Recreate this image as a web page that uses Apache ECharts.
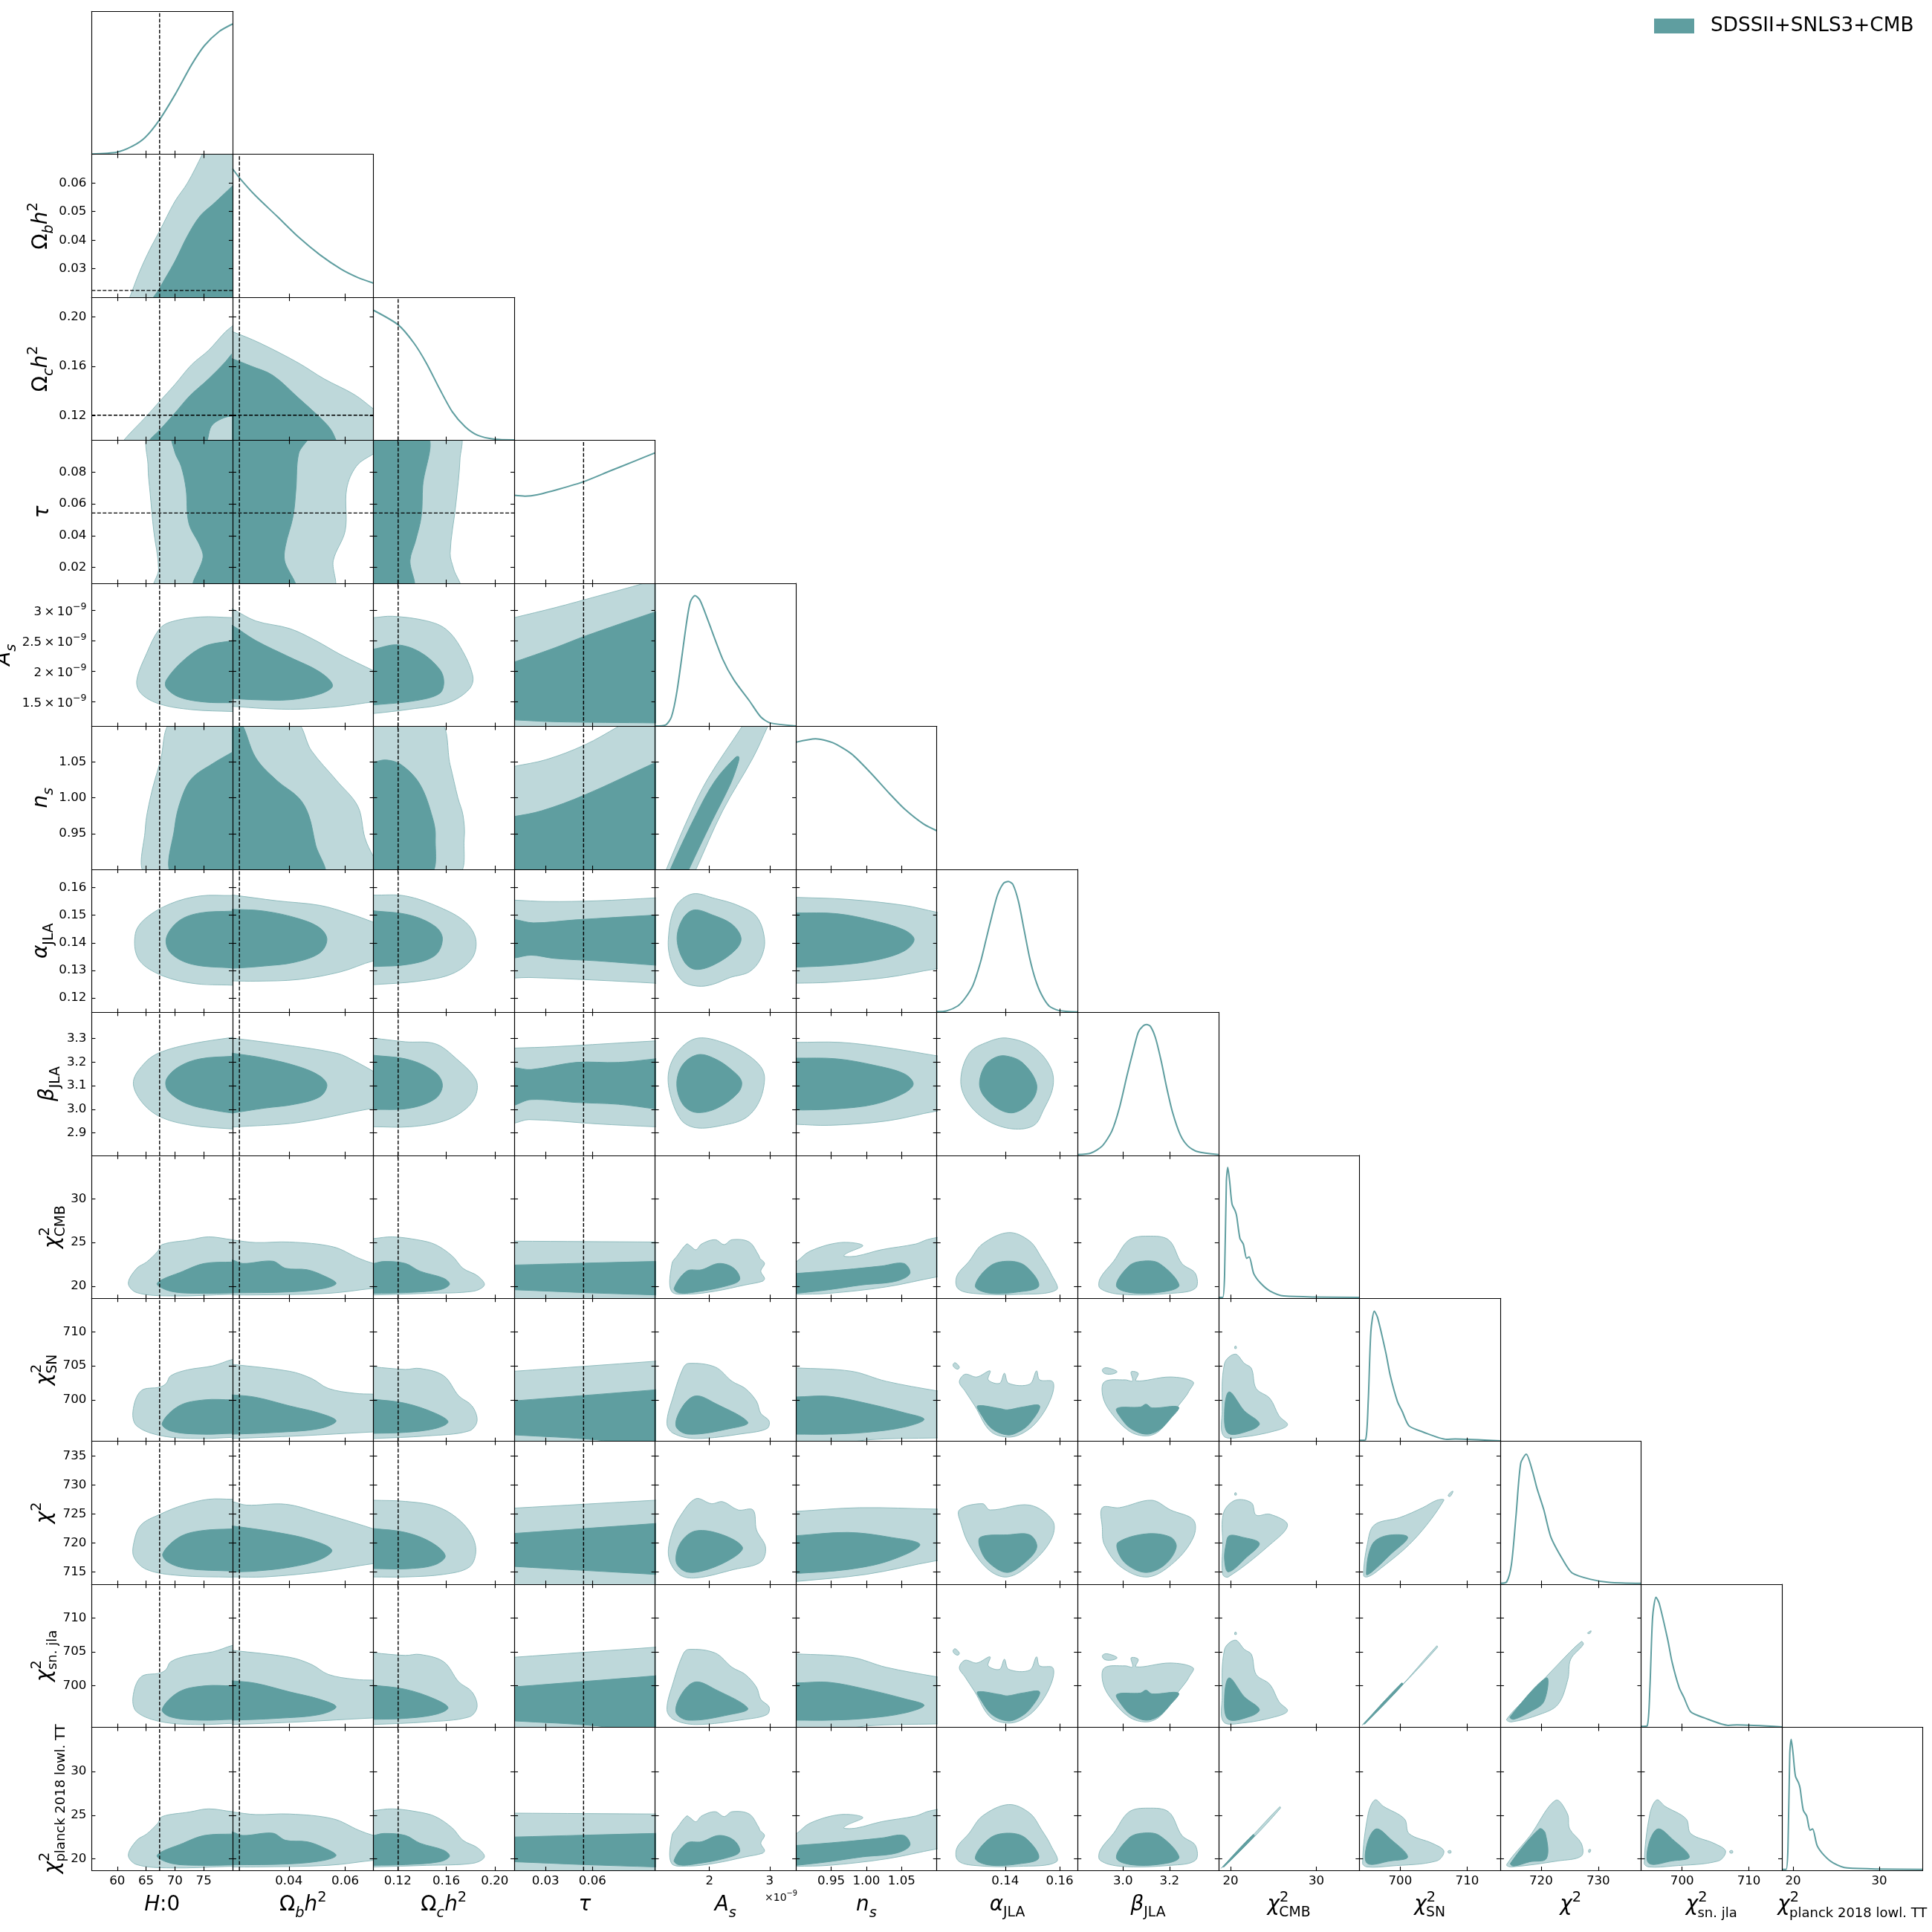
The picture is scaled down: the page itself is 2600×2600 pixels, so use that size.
<!DOCTYPE html>
<html><head><meta charset="utf-8">
<style>html,body{margin:0;padding:0;background:#fff}#c{width:2600px;height:2600px}</style>
<script src="https://cdn.jsdelivr.net/npm/echarts@6/dist/echarts.min.js"></script>
</head><body><div id="c"></div>
<script>
// ---------- parameters ----------
const paramKeys=['H0','ob','oc','tau','As','ns','alpha','beta','cmb','sn','chi','snjla','planck'];
const rangeLo=[55.57,0.02,0.1,0.01,1.1,0.9,0.1148,2.805,18.6,693.9,712.85,693.85,18.7];
const rangeHi=[80,0.07,0.216,0.1,3.434,1.1,0.1666,3.411,35,714.93,737.5,714.95,35.05];
const xTicks=[[60,65,70,75],[0.04,0.06],[0.12,0.16,0.20],[0.03,0.06],[2,3],[0.95,1,1.05],[0.14,0.16],[3,3.2],[20,30],[700,710],[720,730],[700,710],[20,30]];
const yTicks=[[],[0.03,0.04,0.05,0.06],[0.12,0.16,0.20],[0.02,0.04,0.06,0.08],[1.5,2,2.5,3],[0.95,1,1.05],[0.12,0.13,0.14,0.15,0.16],[2.9,3,3.1,3.2,3.3],[20,25,30],[700,705,710],[715,720,725,730,735],[700,705,710],[20,25,30]];
const decimals=[0,2,2,2,0,2,2,1,0,0,0,0,0];
const fiducial=[67.35,0.02243,0.1204,0.0543];
const axisTitles=['{i|H}{r|:}{r|0}','{r|Ω}{si|b}{i|h}{sup|2}','{r|Ω}{si|c}{i|h}{sup|2}','{i|τ}','{i|A}{si|s}','{i|n}{si|s}','{i|α}{s|JLA}','{i|β}{s|JLA}','{i|χ}{sup|2}{sb|CMB}','{i|χ}{sup|2}{sb|SN}','{i|χ}{sup|2}','{i|χ}{sup|2}{st|sn. jla}','{i|χ}{sup|2}{st|planck 2018 lowl. TT}'];
const yNameGap=[0,48,48,46,88,46,47,39,28,43,43,43,31];
const legendName='SDSSII+SNLS3+CMB';

// ---------- 1D posteriors: [value as % of the parameter range, height as % of panel] ----------
const d0=[0,0.3,18,1.6,28.7,5.6,37.8,11.7,48,24,59,41.5,71,62.8,80,76,90.6,86,100,91.2];
const d1=[0,90,4.9,83.6,16.4,71,31.6,56.7,47,42,62,29.8,77,19.8,89.4,13.7,100,10];
const d2=[0,91,17.6,80.8,28.8,68,37.9,53.5,47,36,56,20,65.1,9.6,74.2,3.5,86,0.8,100,0.3];
const d3=[0,61.6,7.6,61,16.6,62,31.7,65.9,49,71,68,78.6,86,85.7,100,91.3];
const d4=[0,0.3,7.5,1,11.6,6.6,15.6,25,22.4,73,25,87,28.3,91.5,31.8,88.3,37.2,75,48,47,56,32.4,67,17.8,75,6.6,81.7,2.4,100,0.3];
const d5=[0,88.9,14,91.3,26,88.6,39.5,80.7,53,67.5,66.4,53,77,42.3,90.6,31.7,100,27];
const d6=[0,0.5,6.8,1,14.9,4.5,20,9.8,25.7,19,31,35,35,51,39,67,43,81.8,47.3,90.2,50.8,91.5,54,89.5,58,77.5,62,57.6,66,37.7,70,23,74.3,12.5,79.7,4.5,86.5,1.3,100,0.3];
const d7=[0,0.5,9.4,1.6,17.5,6.6,24.3,17,29.6,33,35,55.6,39,71.4,43,86,46.4,90.5,49,91.5,51.8,90,55.3,82,59.3,66,63.3,47,67.4,30,72.8,14.5,78.2,6.6,85,2.6,100,0.5];
const d8=[0,0.7,3,0.7,4.3,15.7,5.6,82,6.6,91.6,7.9,82,9.6,66,11.9,61,12.9,57.5,15.2,42,17.6,38,20,28,21.8,29,25,17.4,30,10.5,36.5,5.2,46.4,1.7,100,0.7];
const d9=[0,0.7,4.3,1,6.3,28,8.2,77,10.6,91,12.9,86.7,18.9,61.5,22,45.8,27,28,30.4,21,35.3,10.8,45,6.6,62,1.4,68,1.7,100,0.3];
const d10=[0,0.7,4.6,1.7,8,14,11.3,48.8,14.6,84.8,18.5,91,22.8,79.6,26,67.5,31,52,36,33,44.4,17.3,51,8,64.2,3.5,77.5,1.4,100,0.7];
const diagCurves=[d0,d1,d2,d3,d4,d5,d6,d7,d8,d9,d10,d9,d8];

// ---------- 2D contours: o = 95% region, i = 68% region; pairs are (x,y) as % of each parameter's range ----------
const o1_0=[25,-4,27,0,34,18,41,33,48,46,59,67,68,80,78.5,100,80,104,104,104,104,-4];
const i1_0=[43,-4,48,6,59,25,68,43,77,57,86,65,100,78,104,82,104,-4];
const o2_0=[21,-4,22.7,0,39,17,48,27,59,39,71,53,83,63,95,76,100,80,104,84,104,-4];
const i2_0=[40,-4,41,0,48,7,59,19,69.5,31,83,43,95,55,100,61,104,64,104,15,100,17,92,15,85,10,79,-4];
const o2_1=[-4,77,0,76,19.5,68,47,54,65,43,86.5,32,100,22,104,19,104,-4,-4,-4];
const i2_1=[-4,58,0,57,13,52,28.5,45.5,47,29.5,62,16,69.5,8,73.5,0,74.5,-4,-4,-4];
const o3_0=[41.4,104,40,82,41.5,63,44,37,47.5,10,44.7,-4,104,-4,104,104];
const i3_0=[58,104,59,92,63.5,82,67,66,69,42,77,26,79,18,72.5,-4,104,-4,104,104];
const o3_1=[-4,-4,71,-4,71.5,16,80,37,81,66,88,82,100,90.5,104,92,104,104,-4,104];
const i3_1=[-4,-4,44,-4,37,15.6,37.5,26,43,47,45,66,47,91,54,104,-4,104];
const o3_2=[-4,-4,61,-4,57,10,54.5,21,58.5,55,61.5,87,60.6,104,-4,104];
const i3_2=[-4,-4,28,-4,26,16,30,30,34,47,35,68,38,104,-4,104];
const o4_0=[104,76,100,76,77,76.5,56,73,48,68,39,51,32,32,35,23,48,15.7,71,11.7,100,10.4,104,10.4];
const i4_0=[104,61,100,60,80,56,65,46,53,32.4,53,27,62,20.5,80,17,100,16.5,104,16.5];
const o4_1=[-4,83,0,82,16.5,73.7,40.5,68.4,59,60,77,50,100,39,104,37,104,16,100,17,77,14,47,12,22.5,12.5,0,14,-4,14];
const i4_1=[-4,72,0,70.5,16.5,60,40.5,48.4,62,38,71,28.5,62,22.6,40.5,18.6,16.5,18.6,0,19.4,-4,19.4];
const o4_2=[-4,76,0,76,13.6,77,38,73.7,51.5,68,62,55,70.6,35,68,26,53,16.5,26,12,0,9,-4,9];
const i4_2=[-4,54,0,54,16.7,57,33,52,47,40,50,31,47,23,30,18,0,15,-4,15];
const o4_3=[-4,75,0,76,29,83,59,91,92,100,104,104,104,-4,-4,-4];
const i4_3=[-4,44,0,45,29,55,50,63,100,80,104,81,104,2.4,100,2.4,29,3.2,0,4.5,-4,4.5];
const o5_0=[57.5,104,48.6,75,42,51.6,38,28,39,-4,104,-4,104,104];
const i5_0=[104,84,100,82,86,74,71,63.5,63.5,49,59,30,57.4,-4,104,-4];
const o5_1=[-4,104,44,104,56,83,74,62,89,44,94,22,100,9,104,4,104,-4,-4,-4];
const i5_1=[-4,104,5,104,16.5,78,31.6,62,47,50,54,38,59,17,64.5,-4,-4,-4];
const o5_2=[-4,104,46.4,104,54.5,73,60,50,63.6,38,64.5,22,59.7,-4,-4,-4];
const i5_2=[-4,75,0,75,9,76.5,20,73,33,59.5,42,36,44,22.5,40,-4,-4,-4];
const o5_3=[-4,71,0,72,22.6,76.7,50,87,74,100,80,104,104,104,104,-4,-4,-4];
const i5_3=[-4,37,0,37,19.6,41,50,52,100,74.6,104,76,104,-4,-4,-4];
const o5_4=[7,-4,8,0,24,37,37.5,63.5,61.8,100,64,104,82,104,80,100,69.5,78,48,41,29,0,27,-4];
const i5_4=[10,-4,10.8,0,29,38,42.6,62,57.4,78.6,59.5,78.6,58.8,74,53.4,59.5,40,33,24,0,22.5,-4];
const o6_0=[104,82,100,81.7,77,81.4,56,76,38,65.5,31,55,33,37.7,47,27,71,20.4,100,19,104,19];
const i6_0=[104,71,100,70.8,77,69.5,62,64,53,52,56,41.6,71,33.7,100,31,104,31];
const o6_1=[-4,82,0,82,31.6,78,62,74.8,83,69,100,63,104,61,104,35,100,36,77,28.4,47,23,16.5,21.8,0,22,-4,22];
const i6_1=[-4,72,0,72,22.5,70.8,47,65.5,62,59,67,51,62,41.6,44,35,22.5,32.4,0,30.8,-4,30.8];
const o6_2=[-4,82,0,82,22.7,81.4,47,73.5,65.5,63,72.7,51,70,37.7,56,27,32,21.8,0,19.4,-4,19.4];
const i6_2=[-4,71,0,71,25.8,68,44,60,49,51.5,44,40,25.8,33.7,0,32,-4,32];
const o6_3=[-4,78.6,0,78.5,22.6,77.5,59,78,100,80,104,80,104,20,100,20.4,59,22.5,10.5,24.4,0,24,-4,24];
const i6_3=[-4,65,0,65,13.6,62.6,43.8,64.7,100,68,104,68,104,33,100,33,59,36,28.7,37.7,12,40,0,38,-4,38];
const o6_4=[26.4,82.8,42.6,79.6,58.8,74.8,72,67,77.7,51,75,37.7,67,28.4,53.4,24.4,41,19.6,30.5,18.3,19.7,21.8,11.6,35,9.4,51,14.3,73.5];
const i6_4=[27.8,71.6,41,68,54.7,61.5,61,52,57.4,44,42.6,33.7,29,30,21,35,15.6,51,19.7,65.5];
const o6_5=[-4,80.4,0,80.4,36.8,79,77,74.8,100,70,104,69.5,104,30,100,30.5,64.5,24.4,23.4,21,0,20.4,-4,20.4];
const i6_5=[-4,69.5,0,69.5,28.8,69,55.6,64,77,57.5,83.9,51,77,43,55.6,36.3,28.8,33,0,31.6,-4,31.6];
const o7_0=[104,83,100,82.5,71,78,48.6,72,38,65,29.6,51.6,35,38,48.6,27,71,21,100,18.5,104,18.5];
const i7_0=[104,69.5,100,69.3,77,67.5,62,62,53,53,54.4,45,68,36,86,31.7,100,29.6,104,29.6];
const o7_1=[-4,82.5,0,82,31.6,78,74,71.4,86.5,66,100,58.7,104,56,104,32,100,33,47,23,0,19.8,-4,19.5];
const i7_1=[-4,72,0,71.4,22.5,68,47,62,62,55.5,67,49,62,41,44,35.7,22.5,33,0,29.6,-4,29];
const o7_2=[-4,82.5,0,82,22.7,79.4,44,78,59,67.5,72.7,53,72.7,42,65,32,50,24,26,20,0,20,-4,20];
const i7_2=[-4,70,0,70,25.8,66.7,44,58,49,49,44,39.7,25.8,33,0,32,-4,32];
const o7_3=[-4,75,0,75,28.7,76,100,80,104,80,104,20,100,20,59,22,10.5,25,0,22.5,-4,22];
const i7_3=[-4,61.4,0,61.4,12,60,43.8,65,74,65,100,67.5,104,68,104,32,100,32.5,74,35.7,43.8,37,12,39,0,35,-4,34];
const o7_4=[30.5,82,48,79,64,71.4,75,62,77.7,53,73.6,37,64,26,48,21,29,19.3,18.3,25,10.2,45,10.2,61,18.3,75];
const i7_4=[30.5,70.4,42.6,67.5,54.7,59.5,61.4,51.6,58.8,43.6,44,33,29,30,19.7,35.7,15.4,50,19.7,63.5];
const o7_5=[-4,79,0,79,31.5,79,64,75.4,100,69.6,104,69,104,30.5,100,31,64,24,23.4,21,0,21.7,-4,21.7];
const i7_5=[-4,68,0,68,28.8,67.5,55.6,63,77,57,83.3,50,77,43.6,55.6,35.7,28.8,32.5,4.6,31.7,0,32,-4,32];
const o7_6=[50,82,69,75.4,81,61,82.4,47.6,75.7,31.7,69,21,54,18.5,36.5,24,23,35.7,17,51.6,23,71.4,36.5,79.4];
const i7_6=[48.6,69.6,60.8,64.8,70.8,50,67.6,38.4,55.4,30,44.6,32,33.8,41,30.3,50,33.8,62,40.5,68];
const o8_0=[104,41,100,41,83,43,69.5,40.8,50,37.6,47,33,39,25.4,32,21,26,10.5,32,4,56,1.7,100,2.8,104,2.8];
const i8_0=[104,25.4,100,25.4,80,24.4,65,19,46.5,10.5,56,5,77,3.5,100,3.8,104,3.8];
const o8_1=[-4,41,0,40.8,16.5,39,40.5,39.4,71.5,36,89.7,28,100,24.4,104,24,104,7,100,7,68,3.5,16.5,2.4,0,2.4,-4,2.4];
const i8_1=[-4,27,0,26.8,7.3,24.4,28.5,26,37.7,21,52.9,20,65,15.7,73.5,10.5,65,7,40.5,4.5,0,3.8,-4,3.8];
const o8_2=[-4,41.8,0,41.8,13.6,43,32,40.8,44,37.6,56,29.6,63.6,21,74,15.7,78.8,9.4,71,5,38,3.5,0,2.4,-4,2.4];
const i8_2=[-4,24.4,0,24.4,7.6,25.8,22.7,24.4,33,19,50,14,54,9.8,47,6,22.7,4,0,3.5,-4,3.5];
const o8_3=[-4,40,0,40,100,39.4,104,39.4,104,-4,-4,-4];
const i8_3=[-4,23.3,0,23.3,50,24.6,100,25.8,104,25.8,104,2.4,100,2.4,50,4,0,6,-4,6];
const o8_4=[11.6,5,12,24.4,15.6,29.6,22.4,38,25,36.6,29,34,33,38,42.6,41,49,37.6,54.6,41,66.8,39.4,73.6,30,74.4,28,77.7,24.4,75,19,77.7,14,76.3,12,64,9.4,42.6,5,23.7,3];
const i8_4=[13.5,7,22.4,19,33,20,45.3,24.4,56,21,60,13,50.7,8.7,29,4.5,17,3.8];
const o8_5=[-4,24,0,25.4,10,33,31.4,39,47.5,37,36,31.5,34,29.5,43,29.6,60.7,34,85,38,93,41,100,42.5,104,43,104,15,100,15,64,8,23.4,3.5,0,2.8,-4,2.8];
const i8_5=[-4,17.4,0,17.4,34,20,60.7,22.6,76.6,24.4,80.9,17.4,71,12,47,9.4,23,6,0,3.5,-4,3.5];
const o8_6=[51,46,66,40,74.6,28,81,17.4,85,6,58,2.8,25.7,3.5,14.9,7,14.3,15.7,23,26,32.4,38];
const i8_6=[51,26,63,22.6,72.4,8.7,58,4.5,36.5,3.8,27.3,8.7,37.8,22.6];
const o8_7=[50,43.5,64.7,40.8,74,24.4,83.6,17.4,83.6,7,66,3.5,31,2.8,16,7,16,14,25.6,26,36.4,40.8];
const i8_7=[46,26,58,24.4,72,9.4,63.4,5,39,3.8,27.5,8.7,36.4,22.6];
const o9_0=[104,57.3,100,57.3,86,52.8,68,50,56,45.8,53,40.6,48.6,38,35,35.3,29.3,21,32,10.8,50,3.8,77,2,100,2.8,104,2.8];
const i9_0=[104,29,100,29,80,29,62,24.8,50,12.6,56,7.3,77,5,100,5.6,104,5.6];
const o9_1=[-4,54,0,53.8,40.5,49,56,44,68,37,86.5,33.6,100,33,104,33,104,6.6,100,6.6,47,3.8,0,2,-4,2];
const i9_1=[-4,32.6,0,32.5,16.5,30.8,40.5,24.8,62,19.6,73.5,14.3,62,9,31.6,6.3,0,5,-4,5];
const o9_2=[-4,52,0,52,22.7,50.3,33,51,50,45.8,60.6,31.8,70,24.8,73.6,14.3,68,7.3,38,3.8,0,2,-4,2];
const i9_2=[-4,29.4,0,29.4,22.7,26.6,44,19.6,53,13.6,44,9,22.7,6.3,0,5.6,-4,5.6];
const o9_3=[-4,48.8,0,49,100,56,104,56.3,104,-4,-4,-4];
const i9_3=[-4,28,0,28.3,100,36,104,36.5,104,-4,90,-4,59,1,0,4.5,-4,4.8];
const o9_4=[23.7,54.5,42.6,52,54.6,42,64,37,72,28,75,19.6,80.9,14.3,79.5,9,64,5.6,29,2,13,5.6,8.4,12.6,13,31.8,19.8,51];
const i9_4=[29,31.8,42.6,26.6,65.8,13.3,53.4,9,23.7,5,14.8,10.8,19.8,24.8];
const o9_5=[-4,51.5,0,51.4,39.5,49,64,42,100,35.3,104,35,104,2.4,100,2.4,50,1,20,-4,-4,-4];
const i9_5=[-4,31,0,31,23.4,31.5,50,26.6,77,20,91,15.4,77,10,50,6.3,23.4,5,0,5,-4,5];
const o9_6=[20,46.9,28.4,45,37.8,49.3,36.5,43,44.6,40.6,48,47.6,51,40.6,66,40,70.8,49.3,73,43,82.4,41.6,81,30,71.6,14.3,60.8,5.6,50,3,37.8,7.3,27,24.8,20,35.3,16,41.6];
const o9_6b=[11.5,53.5,13,55,16,52,15,50.5,12.5,51.5];
const i9_6=[29,24.8,44.6,23,50,22,60.8,24,73,24.8,66,12.6,58,6.6,50,4.5,39,9,31,19.6];
const o9_7=[19,41.6,33.7,43,39,42.3,38,48.6,43,47.6,41.5,42.3,65.8,45,82,41.6,79,35,77,31.8,65.8,17.8,58,7.3,48.6,3.8,36.4,7.3,23,21,17.8,31.8];
const o9_7b=[17.5,50,20,51.5,26,50,28,48.5,24,47,19,47.5];
const i9_7=[27.8,23,44.6,24,48.6,26,52.7,23.4,71.6,24,66,16,58,8,48.6,5,37.7,9,31,16];
const o9_8=[4.3,54.5,11.9,61,18.4,54.5,23.4,51,26.7,37,36.5,30,43,17.8,49,11.5,40,7.3,16.8,3,3.6,3.8,2.6,21];
const o9_8b=[11.5,65,12.7,65,12.5,66.5,11.7,66.5];
const i9_8=[7.6,34.6,18.4,21.3,29,12.6,23.4,8,7,5.6,4.3,21];
const o10_0=[104,59.5,100,59.5,83,59.5,65,55.4,48.6,49,35,41.5,30,29.4,30,19,39,10.4,62,6.2,100,5,104,5];
const i10_0=[104,38.8,100,38.8,77,37.4,62,32.9,50.5,21.5,54,15.6,68,11,100,9.3,104,9.3];
const o10_1=[-4,58,0,57.8,10,55.4,37.7,56,62,50,86.5,43,100,38.8,104,37.5,104,14,100,14.5,62,8.7,22.5,5.2,0,5.2,-4,5.2];
const i10_1=[-4,41,0,40.8,31.6,36.3,56,31,70.5,24,62,17.3,40.7,12,16.4,9.3,0,8.7,-4,8.7];
const o10_2=[-4,58.8,0,58.8,22.7,58,44,54.7,59,46.7,69.7,34.6,72.7,22.5,68,12,50,7,22.7,5.2,0,5.2,-4,5.2];
const i10_2=[-4,39,0,39,22.7,36.3,41,29.4,51,20,44,13.8,25.8,11,0,11,-4,11];
const o10_3=[-4,53.2,0,53.3,100,58.8,104,59,104,-4,-4,-4];
const i10_3=[-4,35.4,0,35.6,100,42.5,104,42.8,104,6.8,100,7,0,12.5,-4,12.8];
const o10_4=[29,59.9,40,56.4,48,57.8,59,52,69.5,52,72,38,78.4,26,75,15.6,56,10.4,29,4.5,17,7,9.7,19,11.6,34.6,18.3,48.4];
const i10_4=[29,37.4,48,34.6,62,26,56,19,37.2,10.4,22.4,8.7,15,15.6,18.3,29.4];
const o10_5=[-4,51,0,51,45,53.6,100,52.6,104,52.6,104,16,100,16.6,50,7,0,2,-4,1.6];
const i10_5=[-4,34,0,34,36.8,36.3,66.4,33,88,27.7,66.4,16.6,36.8,10.4,0,7.6,-4,7.6];
const o10_6=[16,52,32.4,56.4,37.8,52,66,55.4,82.4,44.3,81,31,66,13.8,50,5.2,36.5,10.4,23,27.7,17.5,41.5];
const i10_6=[31,33,50,34.6,66,34.6,71,26,63,15.6,50,8.3,36.5,15.6,30.5,26];
const o10_7=[17.5,53.6,29.6,53.6,52.6,58.8,66,52,82.2,45,82.2,33,68.7,15.6,50,5.2,31,12,19,27.7,17.5,39.8];
const i10_7=[28.8,29.4,48.6,35.3,66,33,70,26,62,13.8,48.6,8.3,35,13.8,28.8,22.5];
const o10_8=[3.6,50,11.9,58.8,23.4,57,26.7,48.4,36.5,49,49,41.5,36.5,27.7,7,5.2,3,7,3,27.7];
const o10_8b=[11.5,62.5,12.7,62.5,12.5,64,11.7,64];
const i10_8=[7.6,34,16.8,33,29,28.7,20,19,7,8.7,4.3,17.3,5.3,27.7];
const o10_9=[3,6.2,5.6,27.7,10.6,41.5,28.7,46.7,45,53.6,55,58.8,60,58.8,38.6,31,12,8.7,5.6,5.2];
const o10_9b=[63,62,65,64.5,66.5,65,64.5,61.5];
const i10_9=[5,7,9,27.7,19,34,34.3,33,22,20.8,8.9,8.7];
const o11_9=[2,1.5,28,27,55,57,55.5,56,31,30,3,2.5];
const i11_9=[3,2.5,30,31,31,30,4,2.5];
const o11_10=[4.6,5.6,21,23,41,44,57.6,60,59,58,50,47.5,48,33.5,41,16,28,9,8,3.8];
const o11_10b=[62,66,64.5,67.5,64,66,62.5,65.5];
const i11_10=[7,7.3,32.8,34.6,31,18,21,10.8,9.6,5.6];
const o12_8=[2,1.5,22,22,43.5,44.5,44,43.5,24,22,3,2.5];
const i12_8=[3,2.5,24.5,25,25.5,24,4,2.5];
const o12_9=[2.3,4.9,6.3,39.6,11.2,49.3,17,44.8,32,36,35.3,25.7,52,18.8,60,13.5,55,6.6,22,3,5.6,2.4];
const o12_9b=[63,13.5,64.8,13.8,65,12.2,63.2,12.2];
const i12_9=[12,29,22,22,34.3,9.4,22,6.6,5.6,4.9,5.6,18.8];
const o12_10=[4.6,4,21,24,39.4,49,47.7,39.6,49.3,29,57.6,18.8,57.6,10,41,6.6,8,2.4];
const o12_10b=[63,14.5,64.2,14.5,63.8,12.7,62.8,12.7];
const i12_10=[7.3,4.9,27.8,29,32,26,32.8,8.3,21,6,9.6,3];

const panels2D={
'1_0':[[o1_0],i1_0],'2_0':[[o2_0],i2_0],'2_1':[[o2_1],i2_1],'3_0':[[o3_0],i3_0],'3_1':[[o3_1],i3_1],'3_2':[[o3_2],i3_2],
'4_0':[[o4_0],i4_0],'4_1':[[o4_1],i4_1],'4_2':[[o4_2],i4_2],'4_3':[[o4_3],i4_3],
'5_0':[[o5_0],i5_0],'5_1':[[o5_1],i5_1],'5_2':[[o5_2],i5_2],'5_3':[[o5_3],i5_3],'5_4':[[o5_4],i5_4],
'6_0':[[o6_0],i6_0],'6_1':[[o6_1],i6_1],'6_2':[[o6_2],i6_2],'6_3':[[o6_3],i6_3],'6_4':[[o6_4],i6_4],'6_5':[[o6_5],i6_5],
'7_0':[[o7_0],i7_0],'7_1':[[o7_1],i7_1],'7_2':[[o7_2],i7_2],'7_3':[[o7_3],i7_3],'7_4':[[o7_4],i7_4],'7_5':[[o7_5],i7_5],'7_6':[[o7_6],i7_6],
'8_0':[[o8_0],i8_0],'8_1':[[o8_1],i8_1],'8_2':[[o8_2],i8_2],'8_3':[[o8_3],i8_3],'8_4':[[o8_4],i8_4],'8_5':[[o8_5],i8_5],'8_6':[[o8_6],i8_6],'8_7':[[o8_7],i8_7],
'9_0':[[o9_0],i9_0],'9_1':[[o9_1],i9_1],'9_2':[[o9_2],i9_2],'9_3':[[o9_3],i9_3],'9_4':[[o9_4],i9_4],'9_5':[[o9_5],i9_5],'9_6':[[o9_6,o9_6b],i9_6],'9_7':[[o9_7,o9_7b],i9_7],'9_8':[[o9_8,o9_8b],i9_8],
'10_0':[[o10_0],i10_0],'10_1':[[o10_1],i10_1],'10_2':[[o10_2],i10_2],'10_3':[[o10_3],i10_3],'10_4':[[o10_4],i10_4],'10_5':[[o10_5],i10_5],'10_6':[[o10_6],i10_6],'10_7':[[o10_7],i10_7],'10_8':[[o10_8,o10_8b],i10_8],'10_9':[[o10_9,o10_9b],i10_9],
'11_0':[[o9_0],i9_0],'11_1':[[o9_1],i9_1],'11_2':[[o9_2],i9_2],'11_3':[[o9_3],i9_3],'11_4':[[o9_4],i9_4],'11_5':[[o9_5],i9_5],'11_6':[[o9_6,o9_6b],i9_6],'11_7':[[o9_7,o9_7b],i9_7],'11_8':[[o9_8,o9_8b],i9_8],'11_9':[[o11_9],i11_9],'11_10':[[o11_10,o11_10b],i11_10],
'12_0':[[o8_0],i8_0],'12_1':[[o8_1],i8_1],'12_2':[[o8_2],i8_2],'12_3':[[o8_3],i8_3],'12_4':[[o8_4],i8_4],'12_5':[[o8_5],i8_5],'12_6':[[o8_6],i8_6],'12_7':[[o8_7],i8_7],'12_8':[[o12_8],i12_8],'12_9':[[o12_9,o12_9b],i12_9],'12_10':[[o12_10,o12_10b],i12_10],'12_11':[[o12_9,o12_9b],i12_9]
};

// ---------- layout & styling ----------
const N=paramKeys.length, FONT='DejaVu Sans';
const GL=123.4, GT=15.3, CW=189.55, RH=192.44;
const DARK='#5f9ea0', LIGHT='#bed8da', EDGE='#90bcbe';
const rich={
 i:{fontFamily:FONT,fontStyle:'italic',fontSize:27.8,lineHeight:40,color:'#000'},
 r:{fontFamily:FONT,fontSize:27.8,lineHeight:40,color:'#000'},
 s:{fontFamily:FONT,fontSize:18.8,lineHeight:22,verticalAlign:'bottom',color:'#000'},
 si:{fontFamily:FONT,fontStyle:'italic',fontSize:19.4,lineHeight:22,verticalAlign:'bottom',color:'#000'},
 sb:{fontFamily:FONT,fontSize:18.8,lineHeight:22,verticalAlign:'bottom',color:'#000',padding:[0,0,0,-13]},
 st:{fontFamily:FONT,fontSize:18,lineHeight:21,verticalAlign:'bottom',color:'#000',padding:[0,0,0,-13]},
 sup:{fontFamily:FONT,fontSize:19.4,lineHeight:22,verticalAlign:'top',color:'#000'}
};
const labelRich={a:{fontFamily:FONT,fontSize:16.67,color:'#000',lineHeight:22,verticalAlign:'bottom'},e:{fontFamily:FONT,fontSize:12.5,color:'#000',lineHeight:15,verticalAlign:'top'}};
const val=(p,k)=>rangeLo[k]+p/100*(rangeHi[k]-rangeLo[k]);
const toPts=(flat,cx,cy)=>{const a=[];for(let i=0;i<flat.length;i+=2)a.push([val(flat[i],cx),cy==null?flat[i+1]:val(flat[i+1],cy)]);return a;};
const fmt=(k)=>(v)=>k===4?String(v):v.toFixed(decimals[k]);
const fmtY=(k)=>(v)=>k===4?'{a|'+v+'\u2009×\u200910}{e|−9}':v.toFixed(decimals[k]);
const axLine={show:true,onZero:false,lineStyle:{color:'#000',width:1.1}};

const grid=[],xAxis=[],yAxis=[],series=[];
function polygonSeries(flat,c,r,xi,yi,fill,stroke,name){
 const pts=toPts(flat,c,r);
 series.push({type:'custom',name,xAxisIndex:xi,yAxisIndex:yi,clip:true,silent:true,z:2,
  itemStyle:{color:fill},encode:{x:0,y:1},data:pts,
  renderItem:(params,api)=>{
   if(params.dataIndex!==0)return null;
   return {type:'polygon',shape:{points:pts.map(p=>api.coord(p)),smooth:0.35},style:{fill,stroke,lineWidth:1}};
  }});
}
function dashed(data,xi,yi){
 series.push({type:'line',xAxisIndex:xi,yAxisIndex:yi,data,symbol:'none',silent:true,z:3,clip:true,
  lineStyle:{color:'#000',width:1.4,type:[5,2.4]},animation:false});
}
let legendUsed=false;
for(let r=0;r<N;r++)for(let c=0;c<=r;c++){
 const g=grid.length, diag=r===c, bottom=r===N-1, left=c===0;
 grid.push({left:GL+c*CW,top:GT+r*RH,width:CW,height:RH,containLabel:false,outerBoundsMode:'none'});
 const xMin=rangeLo[c],xMax=rangeHi[c];
 const yMin=diag?0:rangeLo[r],yMax=diag?100:rangeHi[r];
 const xi=xAxis.length, yi=yAxis.length;
 const tick=(vals)=>({show:true,inside:true,length:5,customValues:vals,lineStyle:{color:'#000',width:1.1}});
 xAxis.push({type:'value',gridIndex:g,position:'bottom',min:xMin,max:xMax,z:5,silent:true,splitLine:{show:false},axisLine:axLine,
  axisTick:tick(xTicks[c]),
  axisLabel:{show:bottom,customValues:xTicks[c],margin:6,fontFamily:FONT,fontSize:16.67,color:'#000',formatter:fmt(c)},
  name:bottom?axisTitles[c]:'',nameLocation:'middle',nameGap:bottom?27:0,nameTextStyle:{rich}});
 xAxis.push({type:'value',gridIndex:g,position:'top',min:xMin,max:xMax,z:5,silent:true,splitLine:{show:false},axisLine:axLine,
  axisTick:diag?{show:false}:tick(xTicks[c]),axisLabel:{show:false}});
 yAxis.push({type:'value',gridIndex:g,position:'left',min:yMin,max:yMax,z:5,silent:true,splitLine:{show:false},axisLine:axLine,
  axisTick:diag?{show:false}:tick(yTicks[r]),
  axisLabel:{show:left&&!diag,customValues:yTicks[r],margin:7,fontFamily:FONT,fontSize:16.67,color:'#000',formatter:fmtY(r),rich:labelRich},
  name:(left&&!diag)?axisTitles[r]:'',nameLocation:'middle',nameRotate:90,nameGap:yNameGap[r],nameTextStyle:{rich}});
 yAxis.push({type:'value',gridIndex:g,position:'right',min:yMin,max:yMax,z:5,silent:true,splitLine:{show:false},axisLine:axLine,
  axisTick:diag?{show:false}:tick(yTicks[r]),axisLabel:{show:false}});
 if(diag){
  series.push({type:'line',xAxisIndex:xi,yAxisIndex:yi,data:toPts(diagCurves[r],c,null),symbol:'none',smooth:0.25,silent:true,clip:true,z:2,
   lineStyle:{color:DARK,width:2},animation:false});
 }else{
  const [outs,inner]=panels2D[r+'_'+c];
  outs.forEach(o=>polygonSeries(o,c,r,xi,yi,LIGHT,EDGE));
  polygonSeries(inner,c,r,xi,yi,DARK,DARK,legendUsed?undefined:legendName);
  legendUsed=true;
 }
 if(c<fiducial.length)dashed([[fiducial[c],yMin],[fiducial[c],yMax]],xi,yi);
 if(!diag&&r<fiducial.length)dashed([[xMin,fiducial[r]],[xMax,fiducial[r]]],xi,yi);
}
const chart=echarts.init(document.getElementById('c'),null,{renderer:'canvas',width:2600,height:2600});
chart.setOption({animation:false,backgroundColor:'#fff',grid,xAxis,yAxis,series,
 legend:{left:2221,top:17,padding:5,itemWidth:54,itemHeight:20,selectedMode:false,
  data:[{name:legendName,icon:'rect',itemStyle:{color:DARK}}],
  textStyle:{fontFamily:FONT,fontSize:26.3,color:'#000',padding:[0,0,0,17]}},
 graphic:[{type:'text',left:1029,top:2543,silent:true,style:{text:'{m|×10}{e|−9}',rich:{m:{fontFamily:FONT,fontSize:14,fill:'#000',lineHeight:18,verticalAlign:'bottom'},e:{fontFamily:FONT,fontSize:9.8,fill:'#000',lineHeight:12,verticalAlign:'top'}}}}]
});
</script></body></html>
